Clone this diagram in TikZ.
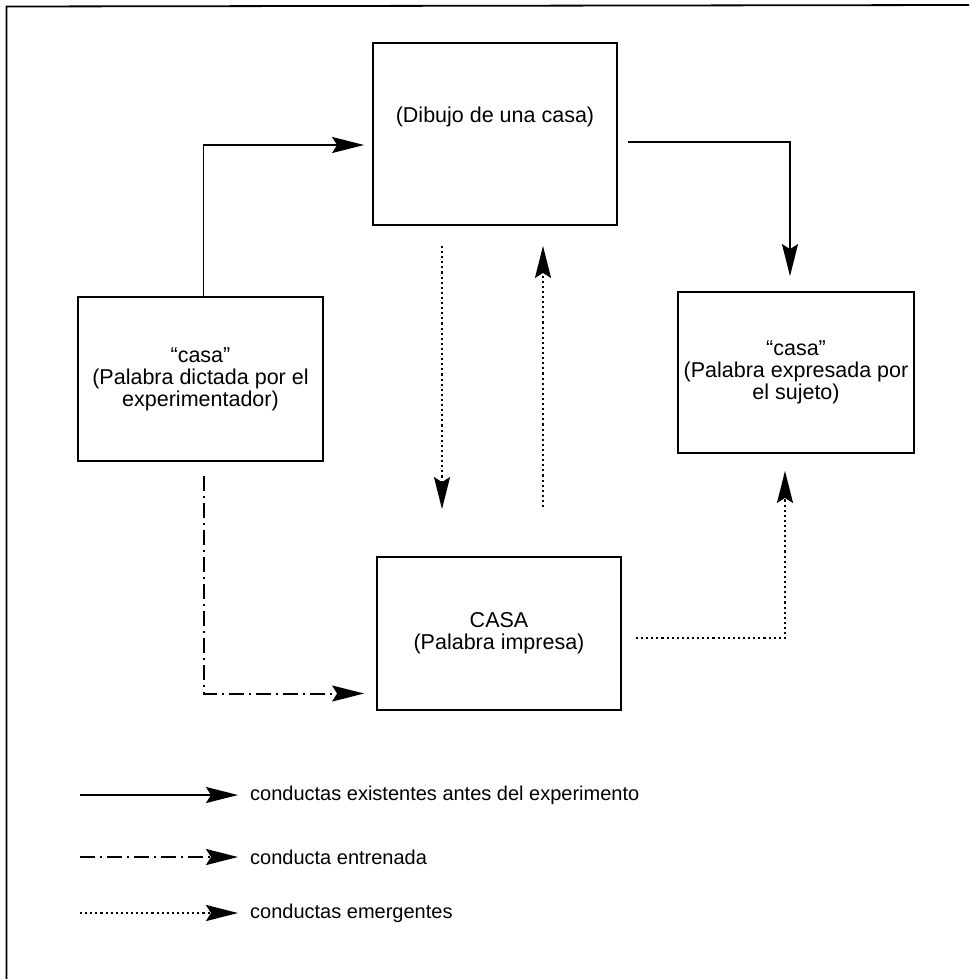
\documentclass[tikz,border=0pt]{standalone}
\usepackage{fontspec}
\setmainfont{Liberation Sans}
\usetikzlibrary{arrows.meta}

\begin{document}
\begin{tikzpicture}[x=1pt,y=1pt,
    caja/.style={draw,line width=1.8pt,align=center,font=\fontsize{21.5}{22}\selectfont},
    punta/.style={-{Stealth[length=32pt,width=16pt,inset=5pt]}},
    existente/.style={punta,line width=1.8pt},
    entrenada/.style={punta,line width=2pt,dash pattern=on 15pt off 5pt on 2pt off 5pt},
    emergente/.style={punta,line width=2.1pt,dash pattern=on 2.1pt off 3pt},
    leyenda/.style={anchor=west,inner sep=0pt,font=\fontsize{20}{23}\selectfont}]
        \useasboundingbox (0,0) rectangle (969,-979);
        % marco (solo se ven el borde izquierdo y el superior)
        \draw[line width=1.8pt] (6.5,-979) -- (6.5,-6.5) -- (969,-5);

        % cajas
        \node[caja,minimum width=244pt,minimum height=182pt,text height=15pt,text depth=39pt] (dibujo) at (495,-134) {(Dibujo de una casa)};
        \node[caja,minimum width=245pt,minimum height=164pt] (dictada) at (200.5,-379) {“casa"\\(Palabra dictada por el\\experimentador)};
        \node[caja,minimum width=236pt,minimum height=161pt] (expresada) at (796,-372.5) {“casa”\\(Palabra expresada por\\el sujeto)};
        \node[caja,minimum width=244pt,minimum height=153pt] (impresa) at (499,-633.5) {CASA\\(Palabra impresa)};

        % conductas existentes
        \draw[existente,shorten >=8pt] ([xshift=3pt]dictada.north) |- ([yshift=-11pt]dibujo.west);
        \draw[existente,shorten <=10pt,shorten >=15pt] ([yshift=-8pt]dibujo.east) -| ([xshift=-6pt]expresada.north);
        % conducta entrenada
        \draw[entrenada,shorten <=14pt,shorten >=12pt] ([xshift=3pt]dictada.south) |- ([yshift=-60pt]impresa.west);
        % conductas emergentes
        \draw[emergente,shorten <=20pt,shorten >=47pt] ([xshift=-53pt]dibujo.south) -- ([xshift=-57pt]impresa.north);
        \draw[emergente,shorten <=49pt,shorten >=20pt] ([xshift=44pt]impresa.north) -- ([xshift=48pt]dibujo.south);
        \draw[emergente,shorten <=14pt,shorten >=17pt] ([yshift=-4.5pt]impresa.east) -| ([xshift=-11pt]expresada.south);

        % leyenda
        \node[leyenda] (ley1) at (250,-795) {conductas existentes antes del experimento};
        \node[leyenda] (ley2) at (250,-857) {conducta entrenada};
        \node[leyenda] (ley3) at (250,-913) {conductas emergentes};
        \coordinate (ini1) at (80,-795);
        \coordinate (ini2) at (80,-857);
        \coordinate (ini3) at (80,-913);
        \draw[existente,shorten >=12pt] (ini1) -- (ley1.west);
        \draw[entrenada,shorten >=12pt] (ini2) -- (ley2.west);
        \draw[emergente,shorten >=12pt] (ini3) -- (ley3.west);
\end{tikzpicture}
\end{document}
